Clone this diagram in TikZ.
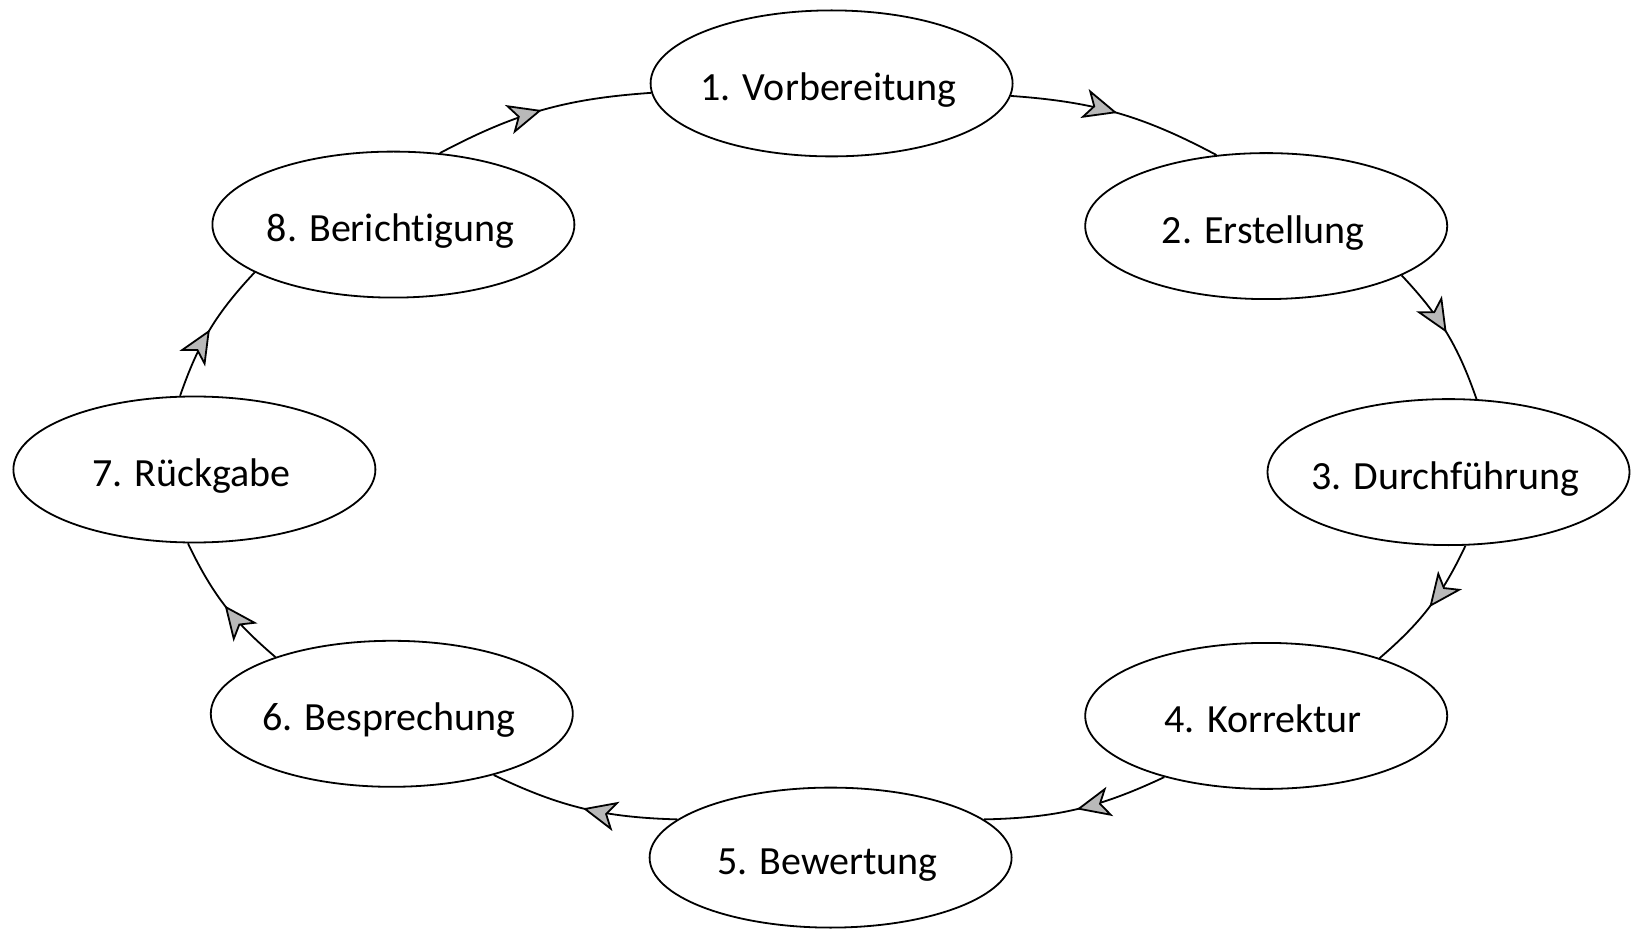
\documentclass[tikz,border=0pt]{standalone}
\usepackage{fontspec}
\setmainfont[Ligatures={NoCommon}]{Carlito}
\usetikzlibrary{shapes.geometric,arrows.meta,decorations.markings}
% label set on a fixed baseline without widening the ellipse
\newcommand\phaselabel[1]{\raisebox{-17pt}[0pt][0pt]{\makebox[0pt]{\kern-6pt#1}}}
\begin{document}
\begin{tikzpicture}[x=1pt,y=-1pt,
  phase/.style={ellipse,draw=black,line width=1.8pt,inner sep=0pt,
    minimum width=362pt,minimum height=146pt,
    font=\fontsize{40}{46}\selectfont},
  flow/.style={line width=1.8pt,
    postaction={decorate},
    decoration={markings,mark=at position 0.5 with
      {\arrow{Stealth[length=34pt,width=30pt,inset=9pt,color=black,fill=gray!55,line width=1.8pt]}}}}
]
\useasboundingbox (0,0) rectangle (1634,933);
\node[phase] (n1) at (831.6,83.4) {\phaselabel{1. Vorbereitung}};
\node[phase] (n2) at (1266.2,226.1) {\phaselabel{2. Erstellung}};
\node[phase] (n3) at (1448.5,472.1) {\phaselabel{3. Durchführung}};
\node[phase] (n4) at (1266.2,715.9) {\phaselabel{4. Korrektur}};
\node[phase,minimum height=140pt] (n5) at (830.6,857.6) {\phaselabel{5. Bewertung}};
\node[phase] (n6) at (391.8,713.8) {\phaselabel{6. Besprechung}};
\node[phase] (n7) at (194.4,469.5) {\phaselabel{7. Rückgabe}};
\node[phase] (n8) at (393.4,224.6) {\phaselabel{8. Berichtigung}};

\draw[flow] (n1.-4) to[bend left=12] (n2.125);
\draw[flow] (n2.-20) to[bend left=12] (n3.69);
\draw[flow] (n3.-77) to[bend left=12] (n4.27);
\draw[flow] (n4.211) to[bend left=12] (n5.14);
\draw[flow] (n5.166) to[bend left=12] (n6.-31);
\draw[flow] (n6.154) to[bend left=12] (n7.-95);
\draw[flow] (n7.101) to[bend left=12] (n8.199);
\draw[flow] (n8.57) to[bend left=12] (n1.183);
\end{tikzpicture}
\end{document}
